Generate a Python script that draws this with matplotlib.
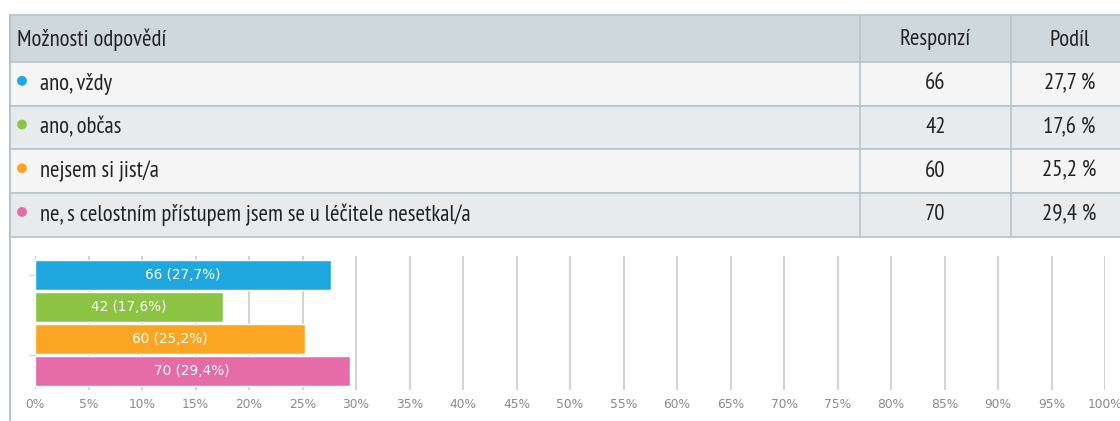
import matplotlib
matplotlib.use("Agg")
import matplotlib.pyplot as plt
from matplotlib.patches import Rectangle, Circle

# data
answers = ["ano, vždy", "ano, občas", "nejsem si jist/a",
           "ne, s celostním přístupem jsem se u léčitele nesetkal/a"]
counts = [66, 42, 60, 70]
shares = [27.7, 17.6, 25.2, 29.4]
share_labels = ["27,7 %", "17,6 %", "25,2 %", "29,4 %"]
bar_labels = ["66 (27,7%)", "42 (17,6%)", "60 (25,2%)", "70 (29,4%)"]
header = ["Možnosti odpovědí", "Responzí", "Podíl"]
colors = ["#1fa8e0", "#8bc443", "#faa623", "#e56ca6"]
xticks = list(range(0, 101, 5))

W, H = 1120, 421
fig = plt.figure(figsize=(W / 100, H / 100), dpi=100)
fig.patch.set_facecolor("white")

narrow = ["PT Sans Narrow", "DejaVu Sans"]

# table, drawn in pixel coords
tab = fig.add_axes([0, 0, 1, 1])
tab.set_xlim(0, W)
tab.set_ylim(H, 0)
tab.axis("off")

border = "#b9c4ca"
top = 15
row_h = 43.7
col1, col2 = 860, 1011
right = 1130

tkw = dict(fontsize=16.4, family=narrow, va="center", color="#222")
tab.add_patch(Rectangle((10, top), right - 10, 47, facecolor="#cfd8dc",
                        edgecolor=border, lw=1.2))
tab.text(17, top + 25, header[0], **tkw)
tab.text((col1 + col2) / 2, top + 25, header[1], ha="center", **tkw)
tab.text((col2 + 1120) / 2 + 4, top + 25, header[2], ha="center", **tkw)

y0 = top + 47
for i, (a, c, s) in enumerate(zip(answers, counts, share_labels)):
    y = y0 + i * row_h
    bg = "#f5f5f5" if i % 2 == 0 else "#e8ebed"
    tab.add_patch(Rectangle((10, y), right - 10, row_h, facecolor=bg,
                            edgecolor=border, lw=1.2))
    tab.add_patch(Circle((22, y + row_h / 2 - 3), 4.2, color=colors[i]))
    tab.text(40, y + row_h / 2, a, **tkw)
    tab.text((col1 + col2) / 2, y + row_h / 2, str(c), ha="center", **tkw)
    tab.text((col2 + 1120) / 2 + 4, y + row_h / 2, s, ha="center", **tkw)

y_end = y0 + 4 * row_h
for xc in (col1, col2):
    tab.plot([xc, xc], [top, y_end], color=border, lw=1.2)
tab.plot([10, 10], [top, H], color=border, lw=1.5)

# bar chart
x0, x1 = 35, 1105
yt, yb = 256, 390
ax = fig.add_axes([x0 / W, (H - yb) / H, (x1 - x0) / W, (yb - yt) / H])
ax.set_xlim(0, 100)
ax.set_ylim(3.6, -0.6)
ax.barh(range(len(shares)), shares, height=0.92, color=colors,
        edgecolor="white", lw=1, zorder=3)
for i, (v, lab) in enumerate(zip(shares, bar_labels)):
    ax.text(v / 2, i, lab, ha="center", va="center", color="white",
            fontsize=9.8, zorder=4)

ax.set_xticks(xticks)
ax.set_xticklabels([f"{t}%" for t in xticks], color="#8a8a8a", fontsize=8.8)
ax.tick_params(axis="x", length=0, pad=6)
ax.grid(axis="x", color="#d3d3d3", lw=1.5, zorder=0)
ax.set_yticks([0, 2.5])
ax.set_yticklabels([])
ax.tick_params(axis="y", length=4, color="#c8d4e0")
for sp in ax.spines.values():
    sp.set_visible(False)
ax.set_facecolor("none")

fig.savefig("out.png", dpi=100)
